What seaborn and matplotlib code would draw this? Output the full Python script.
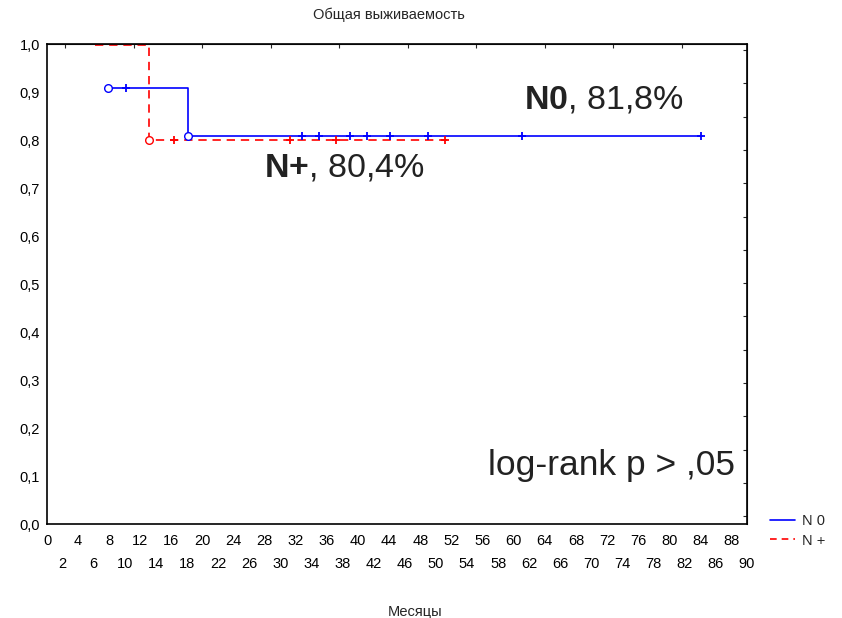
import numpy as np
import pandas as pd
import matplotlib
matplotlib.use('Agg')
import matplotlib.pyplot as plt
from matplotlib.lines import Line2D
import seaborn as sns

# Kaplan-Meier steps (months, survival)
n0_time = [7.8, 18.1, 84.2]
n0_surv = [0.909, 0.808, 0.808]
n0_event_time = [7.8, 18.1]
n0_event_surv = [0.909, 0.808]
n0_cens_time = [10.2, 32.8, 35.0, 38.9, 41.1, 44.1, 49.0, 61.1, 84.1]
n0_cens_surv = [0.909, 0.808, 0.808, 0.808, 0.808, 0.808, 0.808, 0.808, 0.808]

np_time = [6.2, 13.1, 51.4]
np_surv = [0.997, 0.80, 0.80]
np_event_time = [13.1]
np_event_surv = [0.80]
np_cens_time = [16.3, 31.2, 37.1, 51.2]
np_cens_surv = [0.80, 0.80, 0.80, 0.80]

x_major = list(range(0, 89, 4))
x_minor = list(range(2, 91, 4))
y_ticks = [0.0, 0.1, 0.2, 0.3, 0.4, 0.5, 0.6, 0.7, 0.8, 0.9, 1.0]

sns.set_style('white')
plt.rcParams['font.family'] = ['Liberation Sans', 'DejaVu Sans']
plt.rcParams['mathtext.fontset'] = 'custom'
plt.rcParams['mathtext.rm'] = 'Liberation Sans'
plt.rcParams['mathtext.bf'] = 'Liberation Sans:bold'

blue = '#0000ff'
red = '#ff0000'

fig = plt.figure(figsize=(8.42, 6.18), dpi=100)
ax = fig.add_axes([47 / 842, 94 / 618, 700 / 842, 480 / 618])

sns.lineplot(x=n0_time, y=n0_surv, ax=ax, color=blue, lw=1.2,
             drawstyle='steps-post', sort=False, estimator=None)
sns.lineplot(x=np_time, y=np_surv, ax=ax, color=red, lw=1.2,
             drawstyle='steps-post', sort=False, estimator=None)
ax.lines[-1].set_dashes([5, 3.5])
ax.lines[-1].set_clip_on(False)

# censored (+) and event (o) markers
sns.scatterplot(x=n0_cens_time, y=n0_cens_surv, ax=ax, marker='+', color=blue,
                s=40, linewidth=1.3, zorder=4)
sns.scatterplot(x=np_cens_time, y=np_cens_surv, ax=ax, marker='+', color=red,
                s=40, linewidth=1.3, zorder=4)
ax.plot(n0_event_time, n0_event_surv, 'o', mfc='white', mec=blue, ms=5.5, mew=1, zorder=5)
ax.plot(np_event_time, np_event_surv, 'o', mfc='white', mec=red, ms=5.5, mew=1, zorder=5)

ax.set_xlim(0, 90)
ax.set_ylim(0, 1.0)

ax.set_xticks(x_major)
ax.set_xticklabels([str(v) for v in x_major])
ax.set_xticks(x_minor, minor=True)
ax.set_xticklabels([str(v) for v in x_minor], minor=True)
ax.set_yticks(y_ticks)
ax.set_yticklabels([f'{v:.1f}'.replace('.', ',') for v in y_ticks])

ax.tick_params(axis='both', which='both', direction='in', length=3, width=0.8,
               labelsize=10.5, colors='black')
ax.tick_params(axis='x', which='major', pad=7)
ax.tick_params(axis='x', which='minor', pad=24)
ax.tick_params(axis='y', pad=5)

for s in ax.spines.values():
    s.set_color('black')
    s.set_linewidth(1.2)

# decorative inward ticks on the top and right frame
top_ax = ax.secondary_xaxis('top')
top_ax.set_xticks([2.34 + 8.81 * k for k in range(10)])
top_ax.set_xticklabels([])
top_ax.tick_params(direction='in', length=3, width=0.8)
right_ax = ax.secondary_yaxis('right')
right_ax.set_yticks([0.9875 - 0.0694 * k for k in range(15)])
right_ax.set_yticklabels([])
right_ax.tick_params(direction='in', length=3, width=0.8)

ax.text(61.3, 0.883, r'$\mathbf{N0}$, 81,8%', fontsize=24.5, color='#222222', va='center')
ax.text(27.9, 0.742, r'$\mathbf{N}\mathbf{+}$, 80,4%', fontsize=24.5, color='#222222', va='center')
ax.text(56.7, 0.121, 'log-rank p > ,05', fontsize=25.5, color='#222222', va='center')

fig.text(389 / 842, 1 - 15 / 618, 'Общая выживаемость', ha='center', va='center', fontsize=10.5)
fig.text(415 / 842, 1 - 612 / 618, 'Месяцы', ha='center', va='center', fontsize=10.5)

handles = [Line2D([], [], color=blue, lw=1.2),
           Line2D([], [], color=red, lw=1.2, dashes=[4, 3])]
fig.legend(handles, ['N 0', 'N +'], loc='center left', bbox_to_anchor=(757 / 842, 1 - 531 / 618),
           frameon=False, fontsize=10.5, handlelength=1.7, labelspacing=0.35, handletextpad=0.5)

fig.savefig('out.png', dpi=100)
